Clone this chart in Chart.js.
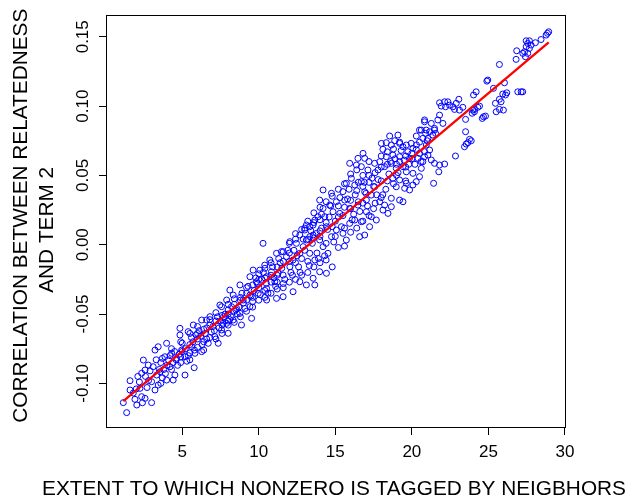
<!DOCTYPE html>
<html>
<head>
<meta charset="utf-8">
<title>Relatedness vs tagging</title>
<script src="https://cdn.jsdelivr.net/npm/chart.js@4.4.0/dist/chart.umd.min.js"></script>
<style>
    body { margin: 0; background: #ffffff; }
    #chart-wrap { width: 630px; height: 500px; }
</style>
</head>
<body>
<div id="chart-wrap"><canvas id="scatter-chart" width="630" height="500"></canvas></div>
<script>
// Values (x = extent tagged, y = correlation)
const samplePoints = [
    // lower tail
    [1.15, -0.1139], [1.37, -0.1211], [1.59, -0.0981], [1.59, -0.1048], [1.91, -0.1115], [2.03, -0.1156], [2.35, -0.1096], [2.57, -0.1108], [3.0, -0.1139], [2.24, -0.1036],
    [2.35, -0.0927], [2.57, -0.0904], [2.78, -0.0868], [2.46, -0.0832], [3.0, -0.0988], [3.33, -0.094], [3.22, -0.1048], [3.43, -0.1012], [3.55, -0.0916], [3.22, -0.076],
    [3.43, -0.0736], [3.98, -0.0711], [3.87, -0.0808], [4.31, -0.0783], [4.2, -0.088], [3.98, -0.0976], [4.41, -0.0976], [4.52, -0.094], [5.18, -0.094], [5.78, -0.0887],
    [4.85, -0.0603], [4.85, -0.0651], [5.39, -0.0627], [5.72, -0.0579], [6.27, -0.0543], [6.81, -0.0519], [6.27, -0.0771], [5.61, -0.0736], [4.96, -0.076], [4.63, -0.0819],
    [5.18, -0.0808], [5.83, -0.0783], [6.7, -0.0711], [7.13, -0.0663], [7.57, -0.0615], [7.9, -0.0567], [7.35, -0.0711], [8.0, -0.0639], [8.22, -0.0447], [7.57, -0.0447],
    [1.8, -0.107], [2.2, -0.099], [2.6, -0.095], [2.9, -0.091], [3.1, -0.088], [3.6, -0.085], [3.8, -0.09], [4.1, -0.083], [4.5, -0.077], [4.7, -0.087],
    [5.0, -0.071], [5.3, -0.084], [5.6, -0.067], [5.8, -0.076], [6.1, -0.062], [6.3, -0.072], [6.6, -0.068], [6.8, -0.058], [7.1, -0.062], [7.3, -0.052],
    [7.6, -0.058], [7.8, -0.05], [8.1, -0.054], [8.4, -0.039], [8.6, -0.05], [8.9, -0.035], [9.1, -0.046], [9.3, -0.03], [9.6, -0.041], [9.8, -0.024],
    [10.1, -0.036], [10.3, -0.02], [10.6, -0.035], [10.9, -0.016], [11.1, -0.03], [11.3, -0.01], [11.6, -0.028], [11.9, -0.004], [12.2, -0.022], [12.4, 0.004],
    [12.7, -0.02], [13.0, 0.012], [13.3, -0.015], [13.6, 0.016], [13.9, -0.01], [14.1, 0.022], [14.4, 0.001], [14.7, 0.028], [15.0, 0.006], [15.3, 0.034],
    [15.6, 0.012], [15.9, 0.04], [16.2, 0.022], [16.5, 0.045], [16.8, 0.03], [17.2, 0.05], [17.5, 0.026], [17.8, 0.047], [18.1, 0.036], [18.4, 0.058],
    [18.9, 0.062], [19.1, 0.052], [19.8, 0.058], [20.2, 0.058], [20.5, 0.074],
    [2.1, -0.095], [2.7, -0.103], [3.3, -0.083], [3.9, -0.093], [2.4, -0.114], [3.6, -0.1], [3.7, -0.082], [3.7, -0.096], [4.3, -0.09], [4.3, -0.075],
    [4.9, -0.085], [4.9, -0.07], [4.9, -0.081], [5.5, -0.078], [5.5, -0.064], [5.5, -0.083], [6.0, -0.074], [6.0, -0.059], [6.0, -0.064], [6.4, -0.061],
    [6.4, -0.076], [6.8, -0.067], [6.8, -0.054], [7.2, -0.068], [7.2, -0.049], [7.6, -0.064], [7.6, -0.051], [8.0, -0.058], [8.0, -0.043], [8.0, -0.055],
    [8.4, -0.056], [8.4, -0.048], [8.8, -0.052], [8.8, -0.04], [8.8, -0.038], [9.2, -0.048], [9.2, -0.035], [9.2, -0.031], [9.6, -0.045], [9.6, -0.029],
    [9.6, -0.038], [10.0, -0.04], [10.0, -0.025], [10.0, -0.021], [10.4, -0.038], [10.4, -0.024], [10.4, -0.017], [10.8, -0.035], [10.8, -0.022], [10.8, -0.013],
    [11.2, -0.032], [11.2, -0.016], [11.2, -0.027], [11.6, -0.031], [11.6, -0.012], [11.6, -0.005], [12.0, -0.027], [12.0, -0.006], [12.0, 0.001], [12.4, -0.025],
    [12.4, -0.013], [12.4, 0.008], [12.8, -0.022], [12.8, -0.01], [12.8, 0.011], [13.2, -0.02], [13.2, 0.004], [13.2, 0.017], [13.6, -0.016], [13.6, 0.005],
    [13.6, 0.023], [14.0, -0.013], [14.0, 0.01], [14.0, 0.027], [14.0, 0.018], [14.4, -0.011], [14.4, 0.016], [14.4, 0.031], [14.8, -0.016], [14.8, 0.013],
    [14.8, 0.035], [15.2, -0.002], [15.2, 0.02], [15.2, 0.04], [15.6, -0.001], [15.6, 0.027], [15.6, 0.044], [16.0, 0.009], [16.0, 0.032], [16.0, 0.051],
    [16.4, 0.012], [16.4, 0.039], [16.4, 0.054], [16.8, 0.017], [16.8, 0.042], [16.8, 0.05], [17.2, 0.021], [17.2, 0.045], [17.2, 0.06], [17.6, 0.03],
    [17.6, 0.052], [18.0, 0.034], [18.0, 0.064], [18.4, 0.046], [18.4, 0.067], [18.8, 0.044], [18.8, 0.069], [19.2, 0.06], [19.2, 0.074], [19.6, 0.064],
    [19.6, 0.046],
    // middle band
    [10.28, 0.001], [12.03, 0.0022], [13.11, 0.0142], [13.55, 0.0142], [13.87, 0.0202], [14.31, 0.0202], [13.77, 0.0082], [13.33, 0.0058], [12.68, 0.007], [12.46, 0.001],
    [12.9, -0.0014], [12.68, -0.0062], [13.33, -0.0062], [13.66, -0.011], [14.52, -0.0062], [14.42, -0.0206], [13.98, -0.0195], [13.55, -0.0242], [13.66, -0.029], [13.11, -0.029],
    [12.24, -0.0339], [12.68, -0.0267], [9.63, -0.0183], [10.07, -0.0183], [10.39, -0.0147], [10.72, -0.011], [11.16, -0.0062], [11.48, -0.005], [11.81, -0.0087], [10.83, -0.0195],
    [11.26, -0.0206], [10.51, -0.0231], [9.85, -0.0267], [9.42, -0.0231], [8.77, -0.029], [8.11, -0.0327], [8.33, -0.0363], [7.9, -0.0399], [7.46, -0.0435], [8.0, -0.0471],
    [8.55, -0.0459], [8.98, -0.0399], [9.42, -0.0363], [9.96, -0.0351], [10.51, -0.0315], [11.05, -0.0267], [11.59, -0.0219], [12.03, -0.0159], [12.24, -0.011], [10.51, -0.0399],
    [11.16, -0.0387], [11.59, -0.0375], [9.42, -0.0447], [9.53, -0.0531], [8.77, -0.0495], [8.33, -0.0543], [8.87, -0.0579], [7.67, -0.0567], [6.59, -0.0543],
    [2.0, -0.104], [2.8, -0.098], [3.5, -0.09], [4.0, -0.087], [4.6, -0.083], [5.0, -0.077], [5.5, -0.072], [6.0, -0.068], [6.5, -0.064], [7.0, -0.059],
    [7.5, -0.055], [8.0, -0.05], [8.5, -0.047], [9.0, -0.042], [9.5, -0.037], [10.0, -0.031], [10.5, -0.028], [11.0, -0.024], [11.5, -0.017], [12.0, -0.012],
    [12.5, -0.008], [13.0, -0.004], [13.5, 0.001], [14.0, 0.006], [14.5, 0.011], [15.0, 0.017], [15.5, 0.021], [16.0, 0.026], [16.5, 0.031], [17.0, 0.037],
    [17.5, 0.042], [18.0, 0.046], [18.5, 0.051], [19.0, 0.058], [19.5, 0.061], [20.0, 0.066],
    [4.2, -0.08], [4.4, -0.085], [4.8, -0.079], [5.2, -0.075], [5.4, -0.08], [5.7, -0.07], [5.9, -0.065], [6.2, -0.066], [6.4, -0.07], [6.6, -0.06],
    [6.9, -0.063], [7.2, -0.055], [7.4, -0.06], [7.7, -0.052], [8.2, -0.052], [8.4, -0.043], [8.7, -0.045], [9.2, -0.04], [9.7, -0.033], [9.9, -0.028],
    [10.2, -0.025], [10.4, -0.033], [10.8, -0.027], [11.2, -0.022], [11.4, -0.013], [11.7, -0.025], [12.1, -0.02], [12.3, -0.004], [12.6, -0.016], [12.9, 0.004],
    [13.2, -0.012], [13.4, 0.01], [13.8, -0.006], [14.1, 0.012], [14.3, -0.008], [14.6, 0.02], [14.9, 0.002], [15.2, 0.028], [15.4, 0.013], [15.8, 0.033],
    [16.1, 0.018], [16.3, 0.036], [16.6, 0.024], [16.9, 0.045], [17.1, 0.028], [17.4, 0.048], [17.7, 0.036], [18.0, 0.056], [18.3, 0.04], [18.6, 0.06],
    [19.0, 0.05], [19.3, 0.068], [19.6, 0.056], [20.0, 0.062], [20.3, 0.072], [20.6, 0.06], [21.0, 0.075],
    // upper middle
    [20.83, 0.0887], [21.27, 0.0875], [21.48, 0.0839], [20.94, 0.0827], [20.5, 0.0827], [20.29, 0.0784], [21.37, 0.0791], [18.55, 0.0784], [19.09, 0.0791], [18.88, 0.075],
    [18.33, 0.0736], [18.01, 0.0731], [18.11, 0.0688], [18.66, 0.0719], [19.2, 0.0731], [19.42, 0.0707], [19.64, 0.0719], [19.96, 0.0731], [20.07, 0.0695], [19.74, 0.0671],
    [20.29, 0.0688], [20.5, 0.0659], [20.83, 0.0671], [21.16, 0.0683], [20.4, 0.0623], [19.85, 0.0623], [16.81, 0.0659], [16.92, 0.0623], [16.48, 0.0623], [15.94, 0.0587],
    [16.38, 0.0575], [16.7, 0.0563], [17.13, 0.0539], [17.57, 0.0587], [17.9, 0.0599], [18.33, 0.0635], [18.76, 0.0647], [19.2, 0.0635], [17.79, 0.0539], [18.22, 0.0563],
    [18.66, 0.0587], [18.98, 0.0551], [19.42, 0.0563], [19.64, 0.0526], [20.07, 0.0515], [18.76, 0.0479], [19.2, 0.0467], [19.64, 0.0443], [20.07, 0.0431], [20.29, 0.0455],
    [20.5, 0.0491], [18.98, 0.0418], [19.53, 0.0407], [19.85, 0.0395], [18.66, 0.0335], [19.2, 0.0322], [19.42, 0.031], [18.66, 0.0274], [18.22, 0.0286], [17.9, 0.031],
    [18.11, 0.025], [18.44, 0.0226], [14.2, 0.0395], [14.75, 0.0371], [13.98, 0.0322], [15.5, 0.0383], [15.72, 0.0443], [16.05, 0.0479], [16.27, 0.0431], [15.61, 0.0322],
    [15.07, 0.031], [14.63, 0.0286], [14.2, 0.0262], [14.85, 0.0238], [15.29, 0.0226], [15.94, 0.0262], [16.48, 0.0286], [17.03, 0.0322], [17.35, 0.0358], [16.92, 0.0382],
    [17.57, 0.0418], [16.7, 0.0455], [17.03, 0.0238], [17.35, 0.0202], [17.68, 0.0178], [17.24, 0.013], [16.7, 0.0166], [16.27, 0.0178], [15.94, 0.0154], [16.59, 0.0058],
    [16.92, 0.007], [15.5, 0.0082], [15.72, 0.0034], [15.07, 0.0106], [14.75, 0.0058], [14.42, 0.013], [13.66, 0.0178], [13.33, 0.013], [13.0, 0.0106], [13.55, 0.007],
    [13.11, 0.0034], [13.98, 0.0034], [14.2, -0.0014],
    // upper tail
    [28.94, 0.1536], [28.86, 0.1525], [28.77, 0.1512], [28.44, 0.148], [28.07, 0.1457], [27.47, 0.1471], [27.68, 0.1471], [27.57, 0.1452], [27.79, 0.144], [27.47, 0.1428],
    [27.68, 0.1416], [27.36, 0.1392], [27.57, 0.138], [27.25, 0.138], [26.85, 0.1399], [26.81, 0.1337], [27.42, 0.1356], [25.72, 0.13], [24.96, 0.1188], [24.9, 0.118],
    [26.05, 0.1168], [25.33, 0.1128], [26.92, 0.1103], [27.14, 0.1103], [27.24, 0.1103], [26.2, 0.1096], [25.94, 0.1087], [26.12, 0.108], [25.72, 0.1049], [25.83, 0.1031],
    [25.46, 0.102], [25.72, 0.0976], [25.98, 0.0971], [25.51, 0.0959], [24.2, 0.1103], [24.03, 0.108], [24.42, 0.1], [24.31, 0.0991], [24.09, 0.0976], [23.94, 0.0948],
    [24.68, 0.0923], [24.6, 0.0911], [24.81, 0.0928], [23.51, 0.0904], [23.51, 0.0815], [21.81, 0.1024], [22.14, 0.1031], [22.35, 0.1031], [21.92, 0.1], [22.2, 0.0995],
    [22.46, 0.1007], [22.68, 0.0995], [22.9, 0.102], [23.07, 0.1049], [22.79, 0.0976], [23.11, 0.0971], [23.33, 0.0991], [21.81, 0.0935], [21.7, 0.09], [22.03, 0.0875],
    [23.98, 0.0971], [24.09, 0.0959], [23.55, 0.0726], [23.66, 0.0736], [23.77, 0.076], [23.88, 0.075], [23.44, 0.0707], [22.85, 0.064], [20.83, 0.09], [20.62, 0.0827],
    [20.9, 0.0803], [21.16, 0.0815], [21.48, 0.0827], [21.55, 0.0803], [21.05, 0.0767], [20.72, 0.0767], [20.94, 0.0719], [21.05, 0.0647], [20.83, 0.0635], [21.27, 0.0611],
    [21.48, 0.0587], [21.81, 0.0575], [22.14, 0.0582], [20.72, 0.0599], [20.62, 0.0551], [21.76, 0.0526], [21.42, 0.0443]
];

// Fitted line end points
const fitX = [1.15, 28.94];
const fitY = [-0.1128, 0.146];

// Axis ticks and ranges
const xTicks = [5, 10, 15, 20, 25, 30];
const yTicks = [-0.10, -0.05, 0.00, 0.05, 0.10, 0.15];
const xRange = [0.02, 30.07];
const yRange = [-0.1322, 0.1657];

const xTitle = 'EXTENT TO WHICH NONZERO IS TAGGED BY NEIGBHORS';
const yTitleLines = ['CORRELATION BETWEEN RELATEDNESS', 'AND TERM 2'];

const FONT = '"Liberation Sans", Arial, Helvetica, sans-serif';

// Draws the box, the rotated y tick labels and both axis titles
const framePlugin = {
    id: 'framePlugin',
    afterDraw(chart) {
        const ctx = chart.ctx;
        const area = chart.chartArea;
        const yScale = chart.scales.y;

        ctx.save();
        ctx.strokeStyle = '#000000';
        ctx.lineWidth = 1;
        ctx.strokeRect(area.left + 0.5, area.top + 0.5, area.right - area.left - 1, area.bottom - area.top - 1);

        ctx.fillStyle = '#000000';
        ctx.textAlign = 'center';
        ctx.textBaseline = 'alphabetic';

        // y tick labels, reading upwards
        ctx.font = '17px ' + FONT;
        yTicks.forEach(v => {
            const py = yScale.getPixelForValue(v);
            ctx.save();
            ctx.translate(88, py);
            ctx.rotate(-Math.PI / 2);
            ctx.fillText(v.toFixed(2), 0, 0);
            ctx.restore();
        });

        // axis titles
        ctx.font = '20.8px ' + FONT;
        ctx.fillText(xTitle, 334, 495);

        const yTitlePos = [[27.3, 215.7], [53.3, 229.8]];
        yTitleLines.forEach((line, i) => {
            ctx.save();
            ctx.translate(yTitlePos[i][0], yTitlePos[i][1]);
            ctx.rotate(-Math.PI / 2);
            ctx.fillText(line, 0, 0);
            ctx.restore();
        });
        ctx.restore();
    }
};

const ctx = document.getElementById('scatter-chart').getContext('2d');

new Chart(ctx, {
    type: 'scatter',
    data: {
        datasets: [
            {
                label: 'Fit',
                data: fitX.map((x, i) => ({ x: x, y: fitY[i] })),
                showLine: true,
                borderColor: '#ff0000',
                borderWidth: 2.3,
                pointRadius: 0,
                order: 0
            },
            {
                label: 'Points',
                data: samplePoints.map(p => ({ x: p[0], y: p[1] })),
                pointStyle: 'circle',
                pointRadius: 3,
                borderColor: '#0000ff',
                backgroundColor: 'rgba(0, 0, 0, 0)',
                borderWidth: 1,
                order: 1
            }
        ]
    },
    options: {
        responsive: false,
        devicePixelRatio: 1,
        animation: false,
        layout: {
            padding: { left: 0, top: 15, right: 64, bottom: 0 }
        },
        plugins: {
            legend: { display: false },
            tooltip: { enabled: false }
        },
        scales: {
            x: {
                type: 'linear',
                min: xRange[0],
                max: xRange[1],
                afterBuildTicks: scale => { scale.ticks = xTicks.map(v => ({ value: v })); },
                afterFit: scale => { scale.height = 72; },
                border: { display: false },
                grid: { drawOnChartArea: false, drawTicks: true, tickLength: 7, color: '#000000', lineWidth: 1 },
                ticks: {
                    color: '#000000',
                    padding: 7,
                    maxRotation: 0,
                    font: { family: FONT, size: 17 },
                    callback: v => String(v)
                }
            },
            y: {
                type: 'linear',
                min: yRange[0],
                max: yRange[1],
                afterBuildTicks: scale => { scale.ticks = yTicks.map(v => ({ value: v })); },
                afterFit: scale => { scale.width = 106; },
                border: { display: false },
                grid: { drawOnChartArea: false, drawTicks: true, tickLength: 7, color: '#000000', lineWidth: 1 },
                ticks: { display: false }
            }
        }
    },
    plugins: [framePlugin]
});
</script>
</body>
</html>
